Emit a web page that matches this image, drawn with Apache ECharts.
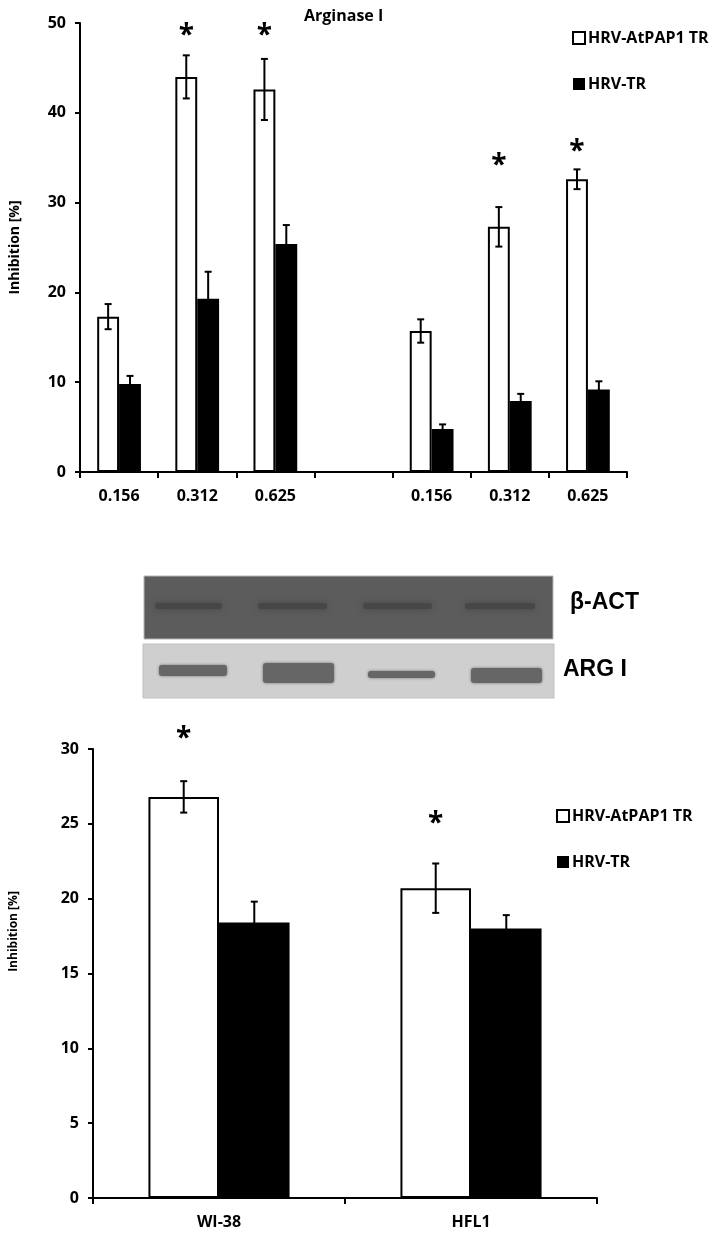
<!DOCTYPE html>
<html>
<head>
<meta charset="utf-8">
<script src="https://cdn.jsdelivr.net/npm/echarts/dist/echarts.min.js"></script>
<style>
  html, body { margin: 0; padding: 0; background: #fff; }
  #chart { width: 709px; height: 1233px; }
</style>
</head>
<body>
<div id="chart"></div>
<script>
// top panel (Arginase I, dose series)
const doseLabels = ['0.156', '0.312', '0.625', '', '0.156', '0.312', '0.625']
const papTop = [17.3, 44.0, 42.6, null, 15.7, 27.3, 32.6]
const papTopErr = [1.4, 2.4, 3.4, null, 1.3, 2.2, 1.1]
const trTop = [9.8, 19.3, 25.4, null, 4.8, 7.9, 9.2]
const trTopErr = [0.9, 3.0, 2.1, null, 0.5, 0.8, 0.9]
const starTop = [null, 49.2, 49.2, null, null, 34.7, 36.3]

// bottom panel (cell lines)
const cellLabels = ['WI-38', 'HFL1']
const papBottom = [26.8, 20.7]
const papBottomErr = [1.05, 1.65]
const trBottom = [18.4, 18.0]
const trBottomErr = [1.4, 0.9]
const starBottom = [31.1, 25.4]

const FONT = 'Open Sans'
const BAR_W = 0.28

const chart = echarts.init(document.getElementById('chart'))

function errData(vals, errs) {
  const out = []
  vals.forEach((v, i) => {
    if (v != null) out.push([i, v, errs[i]])
  })
  return out
}

function starData(vals) {
  const out = []
  vals.forEach((v, i) => {
    if (v != null) out.push([i, v])
  })
  return out
}

// side: -1 = left (white) bar, 1 = right (black) bar
function errorBars(side, color) {
  return function (params, api) {
    const x = api.value(0)
    const v = api.value(1)
    const e = api.value(2)
    const band = api.size([1, 0])[0]
    const cx = api.coord([x, v])[0] + side * band * BAR_W / 2
    const hi = api.coord([x, v + e])[1]
    const lo = api.coord([x, v - e])[1]
    const cap = 3.5
    const style = { stroke: color, lineWidth: 2 }
    return {
      type: 'group',
      children: [
        { type: 'line', shape: { x1: cx, y1: hi, x2: cx, y2: lo }, style },
        { type: 'line', shape: { x1: cx - cap, y1: hi, x2: cx + cap, y2: hi }, style },
        { type: 'line', shape: { x1: cx - cap, y1: lo, x2: cx + cap, y2: lo }, style },
      ],
    }
  }
}

function stars(params, api) {
  const x = api.value(0)
  const band = api.size([1, 0])[0]
  const p = api.coord([x, api.value(1)])
  return {
    type: 'text',
    style: {
      text: '*',
      x: p[0] - band * BAR_W / 2,
      y: p[1] + 6,
      align: 'center',
      verticalAlign: 'middle',
      fontSize: 28,
      fontWeight: 'bold',
      fontFamily: FONT,
      fill: '#000',
    },
  }
}

const axisLine = { show: true, lineStyle: { color: '#000', width: 2 } }
const tickStyle = { color: '#000', width: 2 }
const labelStyle = { color: '#000', fontSize: 16, fontWeight: 'bold', fontFamily: FONT }

function xAxis(idx, data) {
  return {
    type: 'category',
    gridIndex: idx,
    data,
    boundaryGap: true,
    axisLine,
    axisTick: { show: true, inside: false, length: 6, interval: 0, lineStyle: tickStyle },
    axisLabel: Object.assign({ interval: 0, margin: 16 }, labelStyle),
    splitLine: { show: false },
  }
}

function yAxis(idx, max, interval, nameGap, nameSize, namePad) {
  return {
    type: 'value',
    gridIndex: idx,
    min: 0,
    max,
    interval,
    name: 'Inhibition [%]',
    nameLocation: 'middle',
    nameRotate: 90,
    nameGap,
    nameTextStyle: { color: '#000', fontSize: nameSize, fontWeight: 'bold', fontFamily: FONT, padding: namePad },
    axisLine,
    axisTick: { show: true, inside: false, length: 5, lineStyle: tickStyle },
    axisLabel: Object.assign({ margin: 14 }, labelStyle),
    splitLine: { show: false },
  }
}

const whiteBar = { color: '#fff', borderColor: '#000', borderWidth: 2 }
const blackBar = { color: '#000' }

// western blot picture between the panels
const blotTop = { x: 144, y: 576, w: 409, h: 63 }
const blotBot = { x: 143, y: 644, w: 411, h: 54 }
const actBands = [[152, 225], [255, 330], [360, 435], [462, 538]]
const argBands = [[158, 228, 664, 677], [262, 335, 662, 684], [367, 436, 670, 679], [470, 543, 667, 684]]

const blot = [
  {
    type: 'rect',
    shape: { x: blotTop.x, y: blotTop.y, width: blotTop.w, height: blotTop.h },
    style: { fill: '#5c5c5c', stroke: '#b5b5b5', lineWidth: 1 },
  },
  {
    type: 'rect',
    shape: { x: blotBot.x, y: blotBot.y, width: blotBot.w, height: blotBot.h },
    style: { fill: '#cfcfcf', stroke: '#c0c0c0', lineWidth: 1 },
  },
]
actBands.forEach(b => {
  blot.push({
    type: 'rect',
    shape: { x: b[0] + 3, y: 603, width: b[1] - b[0] - 6, height: 6, r: 3 },
    style: { fill: '#474747', shadowBlur: 6, shadowColor: '#474747' },
  })
})
argBands.forEach(b => {
  blot.push({
    type: 'rect',
    shape: { x: b[0] + 1, y: b[2] + 1, width: b[1] - b[0] - 2, height: b[3] - b[2] - 2, r: 3 },
    style: { fill: '#666', shadowBlur: 3, shadowColor: '#707070' },
  })
})
blot.push(
  {
    type: 'text',
    left: 570,
    top: 591,
    style: { text: 'β-ACT', fontSize: 23, fontWeight: 'bold', fontFamily: 'Liberation Sans', fill: '#000' },
  },
  {
    type: 'text',
    left: 563,
    top: 658,
    style: { text: 'ARG I', fontSize: 23, fontWeight: 'bold', fontFamily: 'Liberation Sans', fill: '#000' },
  }
)

const legendBase = {
  orient: 'vertical',
  data: ['HRV-AtPAP1 TR', 'HRV-TR'],
  icon: 'rect',
  itemWidth: 12,
  itemHeight: 12,
  itemGap: 30,
  selectedMode: false,
  textStyle: { color: '#000', fontSize: 16, fontWeight: 'bold', fontFamily: FONT, padding: [0, 0, 0, -2] },
}

const option = {
  animation: false,
  backgroundColor: '#fff',
  title: {
    text: 'Arginase I',
    left: 304,
    top: 8,
    padding: 0,
    textStyle: { color: '#000', fontSize: 16, fontWeight: 'bold', fontFamily: FONT },
  },
  legend: [
    Object.assign({ left: 567, top: 25 }, legendBase),
    Object.assign({ left: 551, top: 803 }, legendBase),
  ],
  grid: [
    { left: 78, top: 23, width: 549, height: 449 },
    { left: 93, top: 749, width: 504, height: 449 },
  ],
  xAxis: [xAxis(0, doseLabels), xAxis(1, cellLabels)],
  yAxis: [yAxis(0, 50, 10, 58, 14, 0), yAxis(1, 30, 5, 73, 12, [0, 0, 0, 84])],
  graphic: blot,
  series: [
    {
      name: 'HRV-AtPAP1 TR', type: 'bar', xAxisIndex: 0, yAxisIndex: 0,
      data: papTop, barWidth: BAR_W * 100 + '%', barGap: '0%', itemStyle: whiteBar,
    },
    {
      name: 'HRV-TR', type: 'bar', xAxisIndex: 0, yAxisIndex: 0,
      data: trTop, barWidth: BAR_W * 100 + '%', barGap: '0%', itemStyle: blackBar,
    },
    {
      name: 'HRV-AtPAP1 TR', type: 'bar', xAxisIndex: 1, yAxisIndex: 1,
      data: papBottom, barWidth: BAR_W * 100 + '%', barGap: '0%', itemStyle: whiteBar,
    },
    {
      name: 'HRV-TR', type: 'bar', xAxisIndex: 1, yAxisIndex: 1,
      data: trBottom, barWidth: BAR_W * 100 + '%', barGap: '0%', itemStyle: blackBar,
    },
    { type: 'custom', xAxisIndex: 0, yAxisIndex: 0, z: 5, renderItem: errorBars(-1, '#000'), data: errData(papTop, papTopErr) },
    { type: 'custom', xAxisIndex: 0, yAxisIndex: 0, z: 5, renderItem: errorBars(1, '#000'), data: errData(trTop, trTopErr) },
    { type: 'custom', xAxisIndex: 1, yAxisIndex: 1, z: 5, renderItem: errorBars(-1, '#000'), data: errData(papBottom, papBottomErr) },
    { type: 'custom', xAxisIndex: 1, yAxisIndex: 1, z: 5, renderItem: errorBars(1, '#000'), data: errData(trBottom, trBottomErr) },
    { type: 'custom', xAxisIndex: 0, yAxisIndex: 0, z: 5, clip: false, renderItem: stars, data: starData(starTop) },
    { type: 'custom', xAxisIndex: 1, yAxisIndex: 1, z: 5, clip: false, renderItem: stars, data: starData(starBottom) },
  ],
}

chart.setOption(option)
</script>
</body>
</html>
